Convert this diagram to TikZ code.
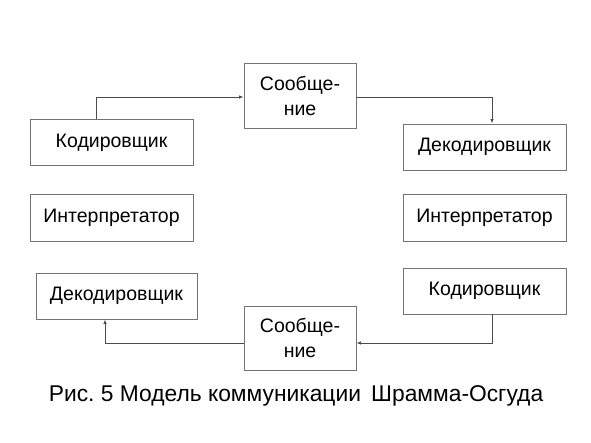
\documentclass[tikz,border=0pt]{standalone}
\usepackage{fontspec}
\setmainfont{Liberation Sans}
\usepackage{xcolor}
\usetikzlibrary{arrows.meta,positioning,calc}
\tikzset{
	blk/.style={draw=black!55, line width=0.9pt, minimum height=46pt,
		minimum width=163pt, align=center, inner sep=2pt,
		font=\fontsize{19.5}{25}\selectfont},
	msg/.style={blk, minimum width=112pt, minimum height=65pt},
	link/.style={draw=black!70, line width=0.8pt, ->},
	capt/.style={font=\fontsize{22.8}{28}\selectfont},
}

\begin{document}
\begin{tikzpicture}[x=1pt, y=1pt, >={Latex[length=4.5pt,width=3.5pt]}]
	\useasboundingbox (0,0) rectangle (591,443);
	% top row
	\node[msg] at (300.0,347.5) (msgtop) {Сообще-\\ние};
	\node[blk] at (111.5,300.5) (kodL) {Кодировщик};
	\node[blk] at (484.5,296.0) (dekR) {Декодировщик};
	% middle row
	\node[blk, minimum height=47pt] at (111.5,225.5) (intL) {Интерпретатор};
	\node[blk, minimum height=47pt] at (484.5,225.5) (intR) {Интерпретатор};
	% bottom row
	\node[blk, minimum width=161pt] at (116.5,147.0) (dekL) {Декодировщик};
	\node[blk] at (484.5,152.0) (kodR) {Кодировщик};
	\node[msg, minimum height=64pt] at (300.0,105.0) (msgbot) {Сообще-\\ние};
	% connectors
	\draw[link] ([xshift=-15.5pt]kodL.north) |- ([yshift=-1.5pt]msgtop.west);
	\draw[link] ([yshift=-1.5pt]msgtop.east) -| ([xshift=7.5pt]dekR.north);
	\draw[link] ([xshift=7.5pt]kodR.south) |- ([yshift=-5pt]msgbot.east);
	\draw[link] ([yshift=-5pt]msgbot.west) -| ([xshift=-11.5pt]dekL.south);
	% caption
	\node[capt] at (296,47) (fig) {Рис.\ 5 Модель коммуникации\, Шрамма-Осгуда};
\end{tikzpicture}
\end{document}
